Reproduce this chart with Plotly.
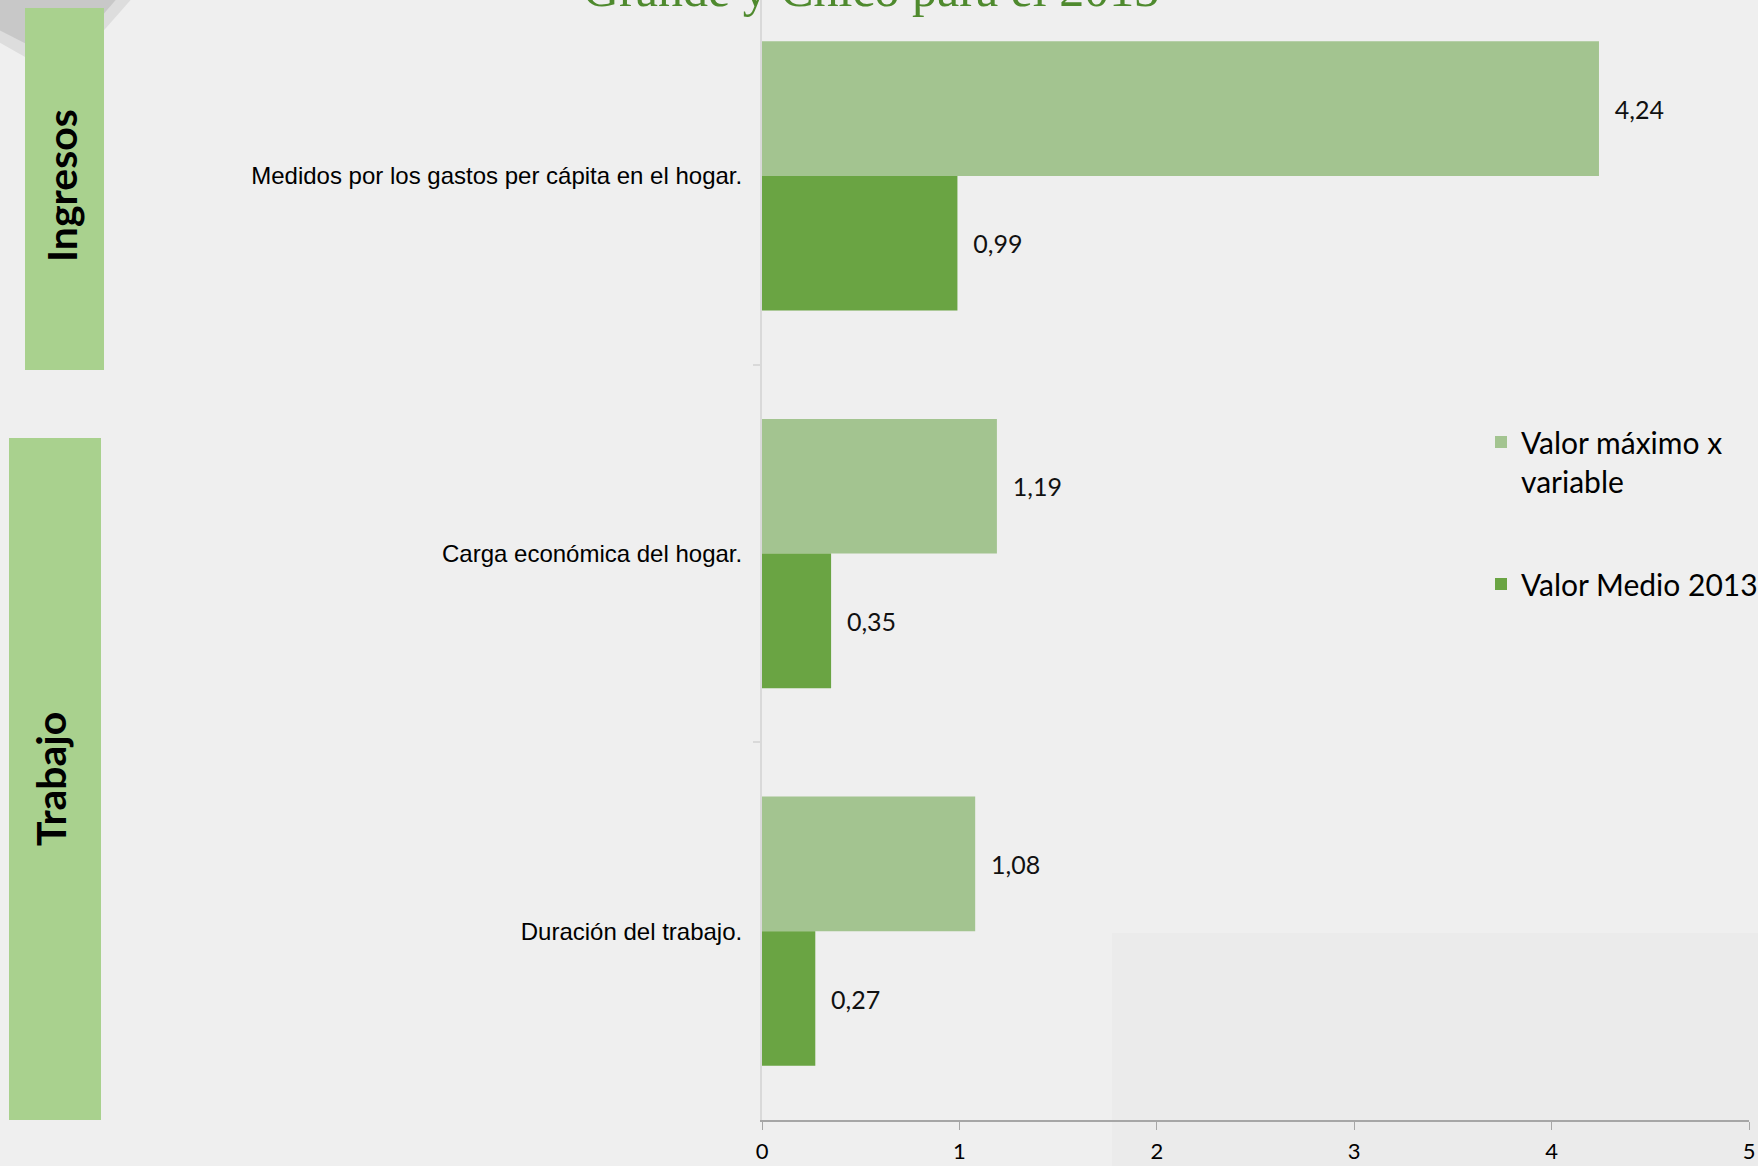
import plotly.graph_objects as go

# ---- data ----
categories = [
    "Medidos por los gastos per cápita en el hogar.",
    "Carga económica del hogar.",
    "Duración del trabajo.",
]
valor_maximo = [4.24, 1.19, 1.08]
valor_medio = [0.99, 0.35, 0.27]
series_names = ["Valor máximo x<br>variable", "Valor Medio 2013"]
x_ticks = [0, 1, 2, 3, 4, 5]
group_labels = ["Ingresos", "Trabajo"]
title_text = "Grande y Chico para el 2013"

W, H = 1758, 1166
ML, MR, MT, MB = 762, 9, 0, 46
PW = W - ML - MR
PH = H - MT - MB


def px_x(px):
    return (px - ML) / PW


def px_y(py):
    return (MT + PH - py) / PH


LIGHT = "#a3c490"
DARK = "#6aa443"
BOX = "#a9d18e"
BG = "#efefef"

fig = go.Figure()
fig.add_trace(go.Bar(
    y=categories, x=valor_maximo, orientation="h", name=series_names[0],
    marker=dict(color=LIGHT, line=dict(width=0)),
    texttemplate="\u00a0\u00a0%{x:.2f}", textposition="outside",
    textfont=dict(family="Lato", size=25, color="#111111"),
    constraintext="none", cliponaxis=False, legendgroup="a",
))
fig.add_trace(go.Bar(
    y=categories, x=valor_medio, orientation="h", name=series_names[1],
    marker=dict(color=DARK, line=dict(width=0)),
    texttemplate="\u00a0\u00a0%{x:.2f}", textposition="outside",
    textfont=dict(family="Lato", size=25, color="#111111"),
    constraintext="none", cliponaxis=False, legendgroup="b",
))

shapes = [
    # slightly darker slide panel bottom-right
    dict(type="rect", xref="paper", yref="paper", layer="below",
         x0=px_x(1112), x1=px_x(W + 5), y0=px_y(933), y1=px_y(H + 5),
         fillcolor="#ebebeb", line=dict(width=0)),
    # grey decoration top-left
    dict(type="path", xref="paper", yref="paper", layer="below",
         path="M {} {} L {} {} L {} {} L {} {} Z".format(
             px_x(-5), px_y(-5), px_x(-5), px_y(40), px_x(62), px_y(78), px_x(135), px_y(-5)),
         fillcolor="#dddddd", line=dict(width=0)),
    dict(type="path", xref="paper", yref="paper", layer="below",
         path="M {} {} L {} {} L {} {} L {} {} Z".format(
             px_x(-5), px_y(-5), px_x(-5), px_y(28), px_x(62), px_y(62), px_x(120), px_y(-5)),
         fillcolor="#c8c8c8", line=dict(width=0)),
    # group boxes
    dict(type="rect", xref="paper", yref="paper", layer="below",
         x0=px_x(25), x1=px_x(104), y0=px_y(370), y1=px_y(8),
         fillcolor=BOX, line=dict(width=0)),
    dict(type="rect", xref="paper", yref="paper", layer="below",
         x0=px_x(9), x1=px_x(101), y0=px_y(1120), y1=px_y(438),
         fillcolor=BOX, line=dict(width=0)),
]

annotations = [
    dict(text=group_labels[0], xref="paper", yref="paper", x=px_x(62), y=px_y(186),
         textangle=-90, showarrow=False, xanchor="center", yanchor="middle",
         font=dict(family="Lato", size=41, color="#000000", weight="bold")),
    dict(text=group_labels[1], xref="paper", yref="paper", x=px_x(50), y=px_y(779),
         textangle=-90, showarrow=False, xanchor="center", yanchor="middle",
         font=dict(family="Lato", size=41, color="#000000", weight="bold")),
    dict(text=title_text, xref="paper", yref="paper", x=px_x(871), y=px_y(-11),
         showarrow=False, xanchor="center", yanchor="middle",
         font=dict(family="Liberation Serif", size=50, color="#4f8a2e")),
]

fig.update_layout(
    width=W, height=H,
    margin=dict(l=ML, r=MR, t=MT, b=MB, pad=0, autoexpand=False),
    paper_bgcolor=BG, plot_bgcolor="rgba(0,0,0,0)",
    barmode="group", bargap=0.287, bargroupgap=0,
    separators=",.",
    showlegend=True,
    legend=dict(
        x=px_x(1481), y=px_y(416), xanchor="left", yanchor="top",
        bgcolor="rgba(0,0,0,0)", font=dict(family="Lato", size=30, color="#000000"),
        traceorder="grouped", tracegroupgap=61, valign="top",
    ),
    xaxis=dict(
        range=[0, 5], tickvals=x_ticks, ticktext=[str(t) for t in x_ticks],
        showgrid=False, zeroline=False,
        showline=True, linecolor="#a6a6a6", linewidth=2,
        ticks="outside", ticklen=8, tickcolor="#a6a6a6", tickwidth=1,
        ticklabelstandoff=3, automargin=False,
        tickfont=dict(family="Lato", size=22, color="#000000"),
        fixedrange=True,
    ),
    yaxis=dict(
        type="category", categoryorder="array", categoryarray=categories,
        range=[2.5, -0.466],
        showgrid=False, zeroline=False,
        showline=True, linecolor="#d9d9d9", linewidth=2,
        ticks="outside", ticklen=7, tickcolor="#d9d9d9", tickwidth=2,
        tickson="boundaries", ticklabelstandoff=13, automargin=False,
        tickfont=dict(family="Liberation Sans", size=24, color="#000000"),
        fixedrange=True,
    ),
    shapes=shapes, annotations=annotations,
)

fig.write_html(
    "out.html",
    config={"displayModeBar": False},
    post_script="document.body.style.margin='0';document.body.style.padding='0';"
                "document.body.style.overflow='hidden';",
)
